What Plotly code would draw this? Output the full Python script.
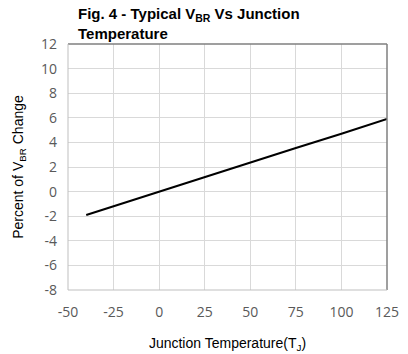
import plotly.graph_objects as go

temp = [-40, 0, 25, 50, 75, 100, 125]
pct_change = [-1.9, 0.0, 1.2, 2.4, 3.55, 4.7, 5.9]
x_ticks = [-50, -25, 0, 25, 50, 75, 100, 125]
y_ticks = [-8, -6, -4, -2, 0, 2, 4, 6, 8, 10, 12]

fig = go.Figure()
fig.add_trace(go.Scatter(x=temp, y=pct_change, mode="lines",
                         line=dict(color="black", width=2), showlegend=False))

font = "Liberation Sans, Arial, sans-serif"
tickfont = "Open Sans, Liberation Sans, sans-serif"
fig.update_layout(
    width=408, height=354,
    margin=dict(l=68, r=21, t=44, b=64),
    paper_bgcolor="white", plot_bgcolor="white",
    xaxis=dict(range=[-50, 125], tickvals=x_ticks, ticktext=[str(v) for v in x_ticks],
               showgrid=True, gridcolor="#d9d9d9", automargin=False,
               zeroline=False, showline=False, ticks="",
               tickfont=dict(family=tickfont, size=14, color="#595959"),
               ticklabelstandoff=12,
               title=dict(text="Junction Temperature(T<sub>J</sub>)", standoff=18,
                          font=dict(family=font, size=14, color="black"))),
    yaxis=dict(range=[-8, 12], tickvals=y_ticks, ticktext=[str(v) for v in y_ticks],
               showgrid=True, gridcolor="#d9d9d9", automargin=False,
               zeroline=False, showline=False, ticks="",
               tickfont=dict(family=tickfont, size=14, color="#595959"),
               ticklabelstandoff=10,
               title=dict(text="Percent of V<sub>BR</sub> Change", standoff=14,
                          font=dict(family=font, size=14, color="black"))),
    annotations=[
        dict(text="<b>Fig. 4 - Typical V<sub>BR</sub> Vs Junction<br>Temperature</b>",
             xref="paper", yref="paper", x=(76-68)/319, xanchor="left",
             y=1 + 41/246, yanchor="top", showarrow=False, align="left",
             font=dict(family=font, size=15, color="black")),
    ],
    shapes=[
        dict(type="line", xref="paper", yref="paper", x0=0, x1=1, y0=1, y1=1,
             line=dict(color="#7f7f7f", width=1.5)),
        dict(type="line", xref="paper", yref="paper", x0=1, x1=1, y0=0, y1=1,
             line=dict(color="#7f7f7f", width=1.5)),
        dict(type="line", xref="paper", yref="paper", x0=0, x1=0, y0=0, y1=1,
             line=dict(color="#bfbfbf", width=1)),
        dict(type="line", xref="paper", yref="paper", x0=0, x1=1, y0=0, y1=0,
             line=dict(color="#bfbfbf", width=1)),
    ],
)
fig.write_html("out.html")
